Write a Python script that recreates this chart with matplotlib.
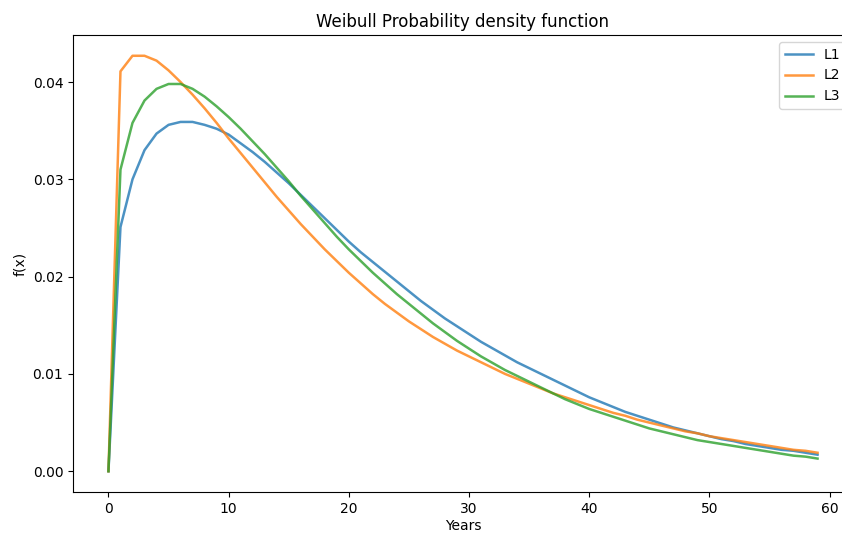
import matplotlib
matplotlib.use("Agg")
import matplotlib.pyplot as plt

# --- values, one per year (0..59) ---
years = list(range(60))

l1 = [0.0, 0.0251, 0.0300, 0.0330, 0.0347, 0.0356, 0.0359, 0.0359, 0.0356, 0.0352,
      0.0346, 0.0337, 0.0328, 0.0318, 0.0307, 0.0296, 0.0284, 0.0272, 0.0260, 0.0248,
      0.0236, 0.0225, 0.0215, 0.0205, 0.0195, 0.0185, 0.0175, 0.0166, 0.0157, 0.0149,
      0.0141, 0.0133, 0.0126, 0.0119, 0.0112, 0.0106, 0.0100, 0.0094, 0.0088, 0.0082,
      0.0076, 0.0071, 0.0066, 0.0061, 0.0057, 0.0053, 0.0049, 0.0045, 0.0042, 0.0039,
      0.0036, 0.0033, 0.0031, 0.0028, 0.0026, 0.0024, 0.0022, 0.0021, 0.0019, 0.0017]

l2 = [0.0, 0.0411, 0.0427, 0.0427, 0.0422, 0.0412, 0.0400, 0.0387, 0.0373, 0.0358,
      0.0342, 0.0327, 0.0312, 0.0297, 0.0282, 0.0268, 0.0254, 0.0241, 0.0228, 0.0216,
      0.0204, 0.0193, 0.0182, 0.0172, 0.0163, 0.0154, 0.0146, 0.0138, 0.0131, 0.0124,
      0.0118, 0.0112, 0.0106, 0.0100, 0.0095, 0.0090, 0.0085, 0.0080, 0.0076, 0.0072,
      0.0068, 0.0064, 0.0060, 0.0057, 0.0053, 0.0050, 0.0047, 0.0044, 0.0041, 0.0039,
      0.0036, 0.0034, 0.0032, 0.0030, 0.0028, 0.0026, 0.0024, 0.0022, 0.0021, 0.0019]

l3 = [0.0, 0.0310, 0.0358, 0.0381, 0.0393, 0.0398, 0.0398, 0.0393, 0.0385, 0.0375,
      0.0364, 0.0352, 0.0339, 0.0326, 0.0312, 0.0298, 0.0283, 0.0269, 0.0255, 0.0241,
      0.0228, 0.0216, 0.0204, 0.0193, 0.0182, 0.0172, 0.0162, 0.0152, 0.0143, 0.0134,
      0.0126, 0.0118, 0.0111, 0.0104, 0.0098, 0.0092, 0.0086, 0.0080, 0.0074, 0.0069,
      0.0064, 0.0060, 0.0056, 0.0052, 0.0048, 0.0044, 0.0041, 0.0038, 0.0035, 0.0032,
      0.0030, 0.0028, 0.0026, 0.0024, 0.0022, 0.0020, 0.0018, 0.0016, 0.0015, 0.0013]

series = [("L1", l1), ("L2", l2), ("L3", l3)]

# --- plot ---
fig = plt.figure(figsize=(8.42, 5.33), dpi=100)
# axes run a bit past the right edge, as in the (cropped) reference
ax = fig.add_axes([73 / 842, 41 / 533, 780 / 842, 457 / 533])

for name, vals in series:
    ax.plot(years, vals, label=name, linewidth=1.8, alpha=0.8)

ax.set_title("Weibull Probability density function", fontsize=12)
ax.set_xlabel("Years", fontsize=10, labelpad=2)
ax.set_ylabel("f(x)", fontsize=10)
ax.tick_params(labelsize=10)
ax.legend(loc="upper right", fontsize=10)

fig.savefig("out.png", dpi=100)
